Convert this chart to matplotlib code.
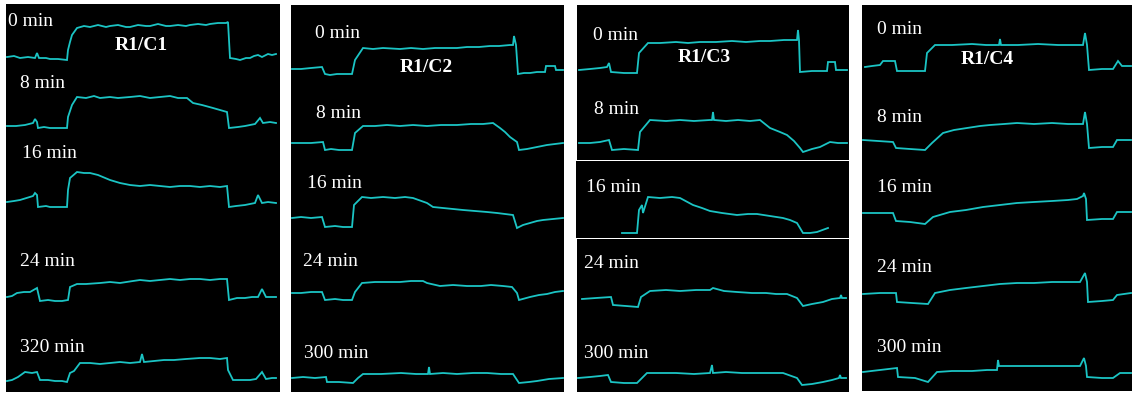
import matplotlib
matplotlib.use("Agg")
import matplotlib.pyplot as plt

W, H = 1132, 393
TRACE_COLOR = "#1bc4c4"
FONT = ["Liberation Serif", "DejaVu Serif"]

# ---------------------------------------------------------------- data
# each trace: (sweep position, deflection) pairs; deflection up = positive
TITLES = ["R1/C1", "R1/C2", "R1/C3", "R1/C4"]
TIMES_C1 = ["0 min", "8 min", "16 min", "24 min", "320 min"]
TIMES_C2 = ["0 min", "8 min", "16 min", "24 min", "300 min"]
TIMES_C3 = ["0 min", "8 min", "16 min", "24 min", "300 min"]
TIMES_C4 = ["0 min", "8 min", "16 min", "24 min", "300 min"]

C1 = [
    [(1, 0), (8, 1), (14, -1), (22, 0), (29, -1), (31, 4), (33, -1), (40, -1), (44, -2), (52, -2), (61, -3),
     (62, 7), (64, 15), (66, 22), (71, 29), (78, 31), (84, 30), (92, 32), (100, 30), (104, 31), (112, 32),
     (120, 30), (124, 30), (132, 32), (140, 31), (144, 31), (152, 33), (160, 31), (164, 31), (172, 32),
     (180, 31), (184, 32), (192, 33), (200, 32), (204, 33), (212, 34), (220, 34), (222, 35), (223, 17),
     (224, -1), (230, -2), (234, -3), (240, -1), (244, -1), (248, 1), (252, 2), (256, 0), (262, 3), (266, 2),
     (270, 3)],
    [(1, 0), (10, 0), (19, 1), (27, 3), (29, 7), (31, 4), (32, -2), (38, -1), (44, -2), (52, -2), (61, -2),
     (62, 9), (66, 21), (71, 29), (80, 28), (88, 30), (94, 28), (104, 29), (112, 28), (124, 29), (134, 30),
     (144, 28), (154, 29), (164, 30), (172, 28), (181, 28), (187, 23), (196, 21), (207, 18), (214, 16),
     (221, 14), (223, -2), (232, -1), (239, 0), (249, 2), (254, 8), (257, 3), (264, 4), (270, 3)],
    [(1, 0), (8, 1), (14, 2), (27, 6), (29, 9), (31, 7), (32, -5), (40, -4), (44, -5), (52, -5), (61, -5),
     (62, 12), (64, 24), (71, 30), (78, 29), (84, 29), (92, 27), (104, 22), (114, 19), (124, 17), (134, 16),
     (144, 17), (154, 16), (164, 15), (174, 16), (184, 16), (194, 15), (204, 16), (214, 15), (221, 16),
     (223, -5), (230, -4), (239, -3), (249, -1), (252, 7), (256, -1), (262, 0), (270, -1)],
    [(1, 0), (6, 1), (11, 4), (18, 5), (24, 5), (31, 9), (34, -4), (42, -3), (49, -4), (56, -4), (62, -3),
     (64, 10), (71, 13), (80, 13), (94, 14), (104, 15), (114, 14), (127, 16), (134, 17), (144, 16), (154, 17),
     (164, 18), (174, 17), (184, 18), (194, 18), (204, 17), (214, 18), (221, 18), (223, -3), (231, -1),
     (239, -1), (246, 0), (252, 0), (256, 8), (260, 0), (270, 0)],
    [(1, 0), (6, 1), (12, 4), (19, 9), (26, 8), (31, 9), (34, 1), (42, 1), (49, 0), (56, 0), (61, -1), (64, 8),
     (68, 10), (74, 18), (84, 18), (94, 17), (104, 18), (114, 19), (124, 18), (134, 19), (136, 27), (138, 19),
     (148, 20), (158, 21), (168, 21), (180, 22), (194, 23), (204, 23), (214, 22), (221, 23), (222, 11),
     (227, 1), (236, 1), (244, 1), (250, 2), (256, 9), (260, 2), (266, 3), (270, 3)],
]

C2 = [
    [(1, 0), (10, 0), (20, 1), (31, 2), (34, -5), (39, -6), (46, -5), (54, -5), (61, -5), (64, 9), (72, 21),
     (82, 20), (92, 21), (109, 20), (120, 21), (132, 20), (144, 21), (156, 21), (166, 21), (176, 22), (188, 22),
     (199, 23), (208, 23), (219, 24), (222, 24), (223, 33), (225, 24), (227, -5), (233, -4), (239, -4),
     (246, -3), (254, -3), (255, 3), (264, 3), (265, -1), (272, -1)],
    [(1, 0), (10, 0), (20, 0), (32, 1), (34, -7), (40, -6), (48, -7), (61, -7), (64, 10), (72, 17), (84, 17),
     (96, 18), (109, 17), (122, 18), (136, 17), (150, 18), (166, 18), (180, 19), (192, 19), (202, 20),
     (209, 15), (214, 11), (219, 6), (226, 1), (228, -7), (236, -6), (246, -4), (256, -2), (264, -1), (272, 0)],
    [(1, 0), (10, 1), (20, 0), (31, 1), (34, -9), (44, -8), (52, -9), (61, -9), (63, 13), (71, 21), (80, 20),
     (92, 21), (104, 20), (114, 21), (122, 20), (136, 15), (142, 11), (152, 10), (162, 9), (172, 8), (184, 7),
     (196, 6), (206, 5), (214, 4), (222, 3), (226, -10), (232, -7), (239, -5), (246, -3), (252, -2),
     (262, -1), (272, 0)],
    [(1, 0), (10, 0), (20, 1), (31, 1), (34, -7), (44, -6), (52, -7), (61, -7), (64, 1), (71, 10), (84, 11),
     (96, 11), (109, 11), (120, 12), (132, 12), (136, 10), (149, 7), (162, 8), (176, 7), (190, 7), (200, 8),
     (212, 7), (221, 6), (226, 0), (228, -7), (239, -4), (248, -2), (256, -1), (264, 1), (272, 2)],
    [(1, 0), (12, 1), (24, 0), (35, 1), (36, -4), (48, -4), (62, -5), (67, 0), (72, 4), (90, 4), (110, 5),
     (125, 4), (137, 4), (138, 11), (139, 4), (152, 5), (166, 4), (182, 5), (196, 5), (210, 4), (222, 4),
     (228, -5), (238, -4), (246, -3), (258, -1), (272, 0)],
]

C3 = [
    [(3, 0), (14, 1), (24, 2), (31, 3), (33, 7), (35, -2), (48, -3), (61, -3), (63, 17), (72, 27), (84, 27),
     (100, 28), (112, 27), (124, 28), (140, 28), (156, 29), (170, 28), (184, 29), (194, 29), (208, 30),
     (221, 30), (222, 40), (223, 30), (224, -2), (236, -1), (251, -1), (252, 8), (259, 8), (260, 0), (271, 0)],
    [(3, 0), (14, 0), (24, 1), (33, 3), (36, -7), (48, -6), (62, -7), (64, 11), (74, 23), (90, 22), (104, 23),
     (118, 22), (134, 23), (136, 23), (137, 31), (138, 23), (150, 22), (162, 23), (174, 22), (184, 23),
     (194, 15), (204, 11), (211, 8), (218, 2), (224, -5), (227, -9), (236, -6), (244, -4), (254, 1), (262, 0),
     (271, 0)],
    [(46, 0), (54, 0), (61, 0), (63, 23), (66, 28), (67, 20), (72, 36), (84, 35), (96, 36), (104, 35),
     (117, 28), (126, 25), (134, 22), (146, 20), (161, 18), (172, 19), (181, 19), (194, 17), (207, 15),
     (214, 13), (221, 10), (227, 0), (234, 0), (241, 1), (252, 5)],
    [(6, 0), (20, 1), (35, 2), (37, -6), (50, -7), (62, -8), (65, 2), (74, 8), (90, 9), (104, 8), (120, 9),
     (134, 9), (137, 11), (148, 8), (161, 7), (176, 6), (190, 6), (200, 5), (211, 5), (221, 1), (227, -7),
     (236, -5), (247, -3), (256, 0), (264, 1), (265, 4), (266, 1), (270, 1)],
    [(2, 0), (14, 1), (24, 2), (32, 3), (35, -4), (48, -5), (61, -5), (71, 5), (86, 5), (100, 5), (118, 4),
     (134, 5), (136, 13), (137, 5), (150, 6), (166, 5), (180, 5), (196, 5), (207, 5), (221, 0), (226, -7),
     (236, -6), (247, -4), (256, -2), (263, 0), (264, 3), (265, 0), (270, 0)],
]

C4 = [
    [(3, 0), (10, 1), (18, 2), (21, 6), (27, 6), (33, 6), (35, -4), (48, -4), (63, -4), (65, 14), (73, 22),
     (90, 22), (110, 23), (124, 22), (137, 22), (138, 28), (139, 22), (156, 22), (176, 23), (196, 22),
     (210, 22), (221, 22), (223, 34), (225, 22), (227, -3), (240, -2), (251, -2), (256, 6), (260, 1), (269, 1)],
    [(1, 0), (16, -1), (31, -2), (34, -8), (48, -9), (63, -10), (70, -3), (81, 7), (92, 10), (105, 12),
     (118, 14), (128, 15), (142, 16), (155, 17), (172, 16), (190, 17), (206, 16), (221, 16), (223, 28),
     (225, 16), (227, -8), (240, -7), (251, -7), (255, 0), (262, 0), (269, 0)],
    [(1, 0), (16, 0), (31, 0), (34, -8), (48, -9), (63, -11), (71, -4), (88, 1), (104, 3), (121, 6), (138, 8),
     (155, 10), (172, 11), (190, 12), (206, 13), (215, 14), (221, 17), (222, 20), (224, 14), (225, -7),
     (240, -6), (251, -6), (255, 1), (262, 1), (269, 1)],
    [(1, 0), (18, 1), (34, 1), (35, -8), (50, -9), (66, -10), (73, 1), (88, 4), (104, 6), (121, 8), (138, 10),
     (155, 11), (172, 11), (190, 12), (206, 12), (218, 12), (223, 21), (225, 12), (226, -8), (240, -7),
     (251, -6), (255, -1), (262, 0), (269, 1)],
    [(1, 0), (18, 2), (35, 4), (36, -5), (53, -6), (66, -10), (75, 0), (90, 1), (110, 1), (125, 2), (135, 2),
     (136, 12), (137, 6), (160, 6), (190, 6), (210, 6), (218, 6), (222, 14), (224, 6), (225, -5), (240, -6),
     (251, -6), (258, -1), (269, -1)],
]

# ---------------------------------------------------------------- layout (pixels of the 1132x393 canvas)
COLUMNS = [
    dict(origin=(6, 4), boxes=[(6, 4, 280, 392)], row_box=[0, 0, 0, 0, 0],
         base=[53, 122, 198, 293, 377], traces=C1, times=TIMES_C1,
         labels=[(2, 18), (14, 79), (16, 149), (14, 258), (14, 344)], title=(135, 41)),
    dict(origin=(291, 5), boxes=[(291, 5, 564, 392)], row_box=[0, 0, 0, 0, 0],
         base=[64, 138, 213, 288, 373], traces=C2, times=TIMES_C2,
         labels=[(24, 29), (25, 108), (16, 178), (12, 257), (13, 348)], title=(135, 62)),
    dict(origin=(576, 5), boxes=[(577, 5, 849, 160), (576, 161, 849, 238), (577, 239, 849, 392)],
         row_box=[0, 0, 1, 2, 2],
         base=[65, 138, 228, 294, 373], traces=C3, times=TIMES_C3,
         labels=[(17, 30), (18, 104), (10, 183), (8, 258), (8, 348)], title=(128, 52)),
    dict(origin=(862, 5), boxes=[(862, 5, 1132, 391)], row_box=[0, 0, 0, 0, 0],
         base=[62, 135, 208, 289, 367], traces=C4, times=TIMES_C4,
         labels=[(15, 24), (15, 113), (15, 182), (15, 263), (15, 342)], title=(125, 54)),
]

fig = plt.figure(figsize=(W / 100, H / 100), dpi=100)
fig.patch.set_facecolor("white")

for ci, col in enumerate(COLUMNS):
    fx, fy = col["origin"]
    axes = []
    for (x0, y0, x1, y1) in col["boxes"]:
        ax = fig.add_axes([x0 / W, 1 - y1 / H, (x1 - x0) / W, (y1 - y0) / H])
        ax.set_facecolor("black")
        ax.set_xlim(x0 - fx, x1 - fx)
        ax.set_ylim(y1 - fy, y0 - fy)           # screen-like: down is positive
        ax.set_xticks([])
        ax.set_yticks([])
        for s in ax.spines.values():
            s.set_visible(False)
        axes.append(ax)
    for r, trace in enumerate(col["traces"]):
        ax = axes[col["row_box"][r]]
        t = [p[0] for p in trace]
        y = [col["base"][r] - p[1] for p in trace]
        ax.plot(t, y, color=TRACE_COLOR, lw=1.3, solid_joinstyle="miter")
        lx, ly = col["labels"][r]
        ax.text(lx, ly, col["times"][r], color="white", family=FONT, fontsize=14,
                ha="left", va="center")
    tx, ty = col["title"]
    axes[0].text(tx, ty, TITLES[ci], color="white", family=FONT, fontsize=14, fontweight="bold",
                 ha="center", va="center")

fig.savefig("out.png", dpi=100, facecolor="white")
